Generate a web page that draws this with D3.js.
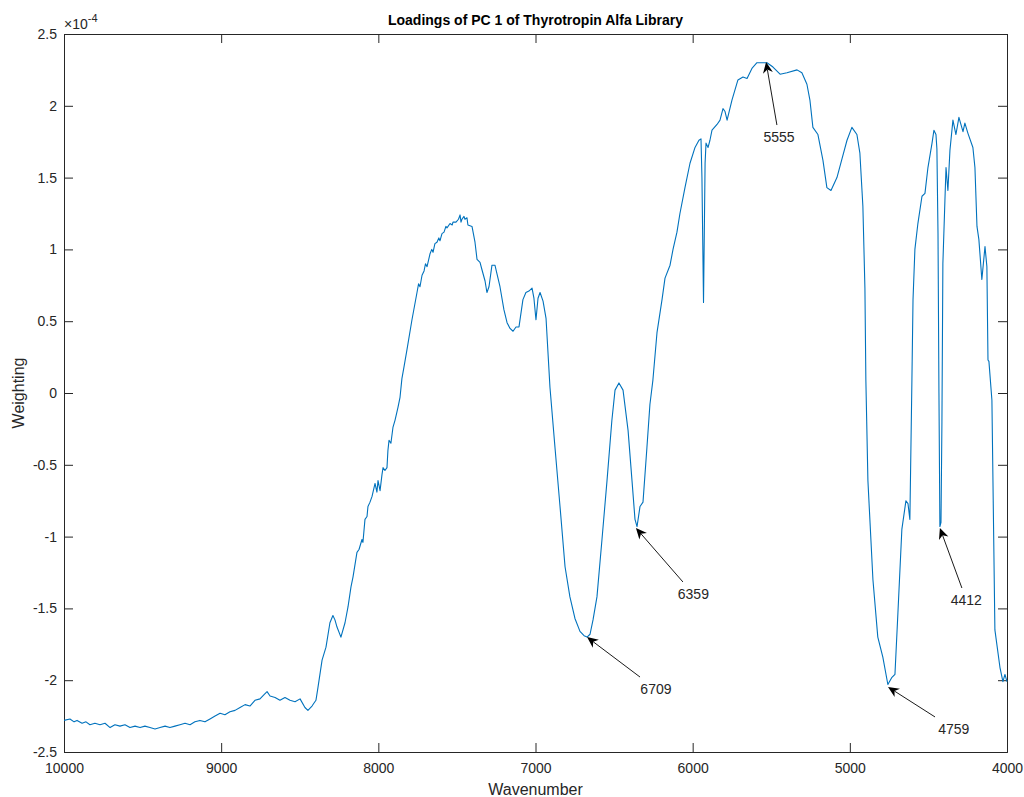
<!DOCTYPE html>
<html>
<head>
<meta charset="utf-8">
<script src="https://cdn.jsdelivr.net/npm/d3@7"></script>
<style>
  body { margin: 0; background: #fff; }
  text { font-family: "Liberation Sans", Arial, Helvetica, sans-serif; }
</style>
</head>
<body>
<svg id="chart" width="1024" height="797"></svg>
<script>
// loadings (weighting in units of 1e-4)
const wavenumber = [
  10000, 9962, 9936, 9917, 9885, 9860, 9835, 9803, 9771, 9739, 9707, 9676, 9644, 9612, 9580, 9548,
  9516, 9485, 9453, 9421, 9389, 9357, 9326, 9294, 9262, 9230, 9198, 9167, 9135, 9103, 9071, 9039,
  9007, 8976, 8944, 8912, 8880, 8848, 8817, 8785, 8753, 8727, 8708, 8689, 8657, 8626, 8594, 8562,
  8530, 8498, 8467, 8448, 8422, 8397, 8384, 8358, 8333, 8308, 8289, 8276, 8263, 8238, 8212, 8193,
  8174, 8161, 8136, 8123, 8104, 8098, 8085, 8072, 8066, 8053, 8040, 8021, 8009, 8002, 7989, 7977,
  7970, 7958, 7945, 7939, 7932, 7920, 7907, 7894, 7875, 7862, 7850, 7837, 7818, 7786, 7754, 7744,
  7735, 7722, 7709, 7700, 7690, 7671, 7660, 7652, 7640, 7627, 7615, 7608, 7595, 7582, 7570, 7563,
  7544, 7530, 7525, 7506, 7490, 7480, 7474, 7468, 7455, 7449, 7436, 7430, 7404, 7385, 7372, 7353,
  7341, 7321, 7309, 7296, 7277, 7258, 7245, 7226, 7201, 7181, 7162, 7143, 7124, 7105, 7080, 7061,
  7042, 7022, 7010, 6997, 6984, 6971, 6952, 6933, 6908, 6876, 6844, 6812, 6781, 6749, 6717, 6691,
  6672, 6653, 6634, 6609, 6577, 6545, 6514, 6494, 6469, 6443, 6411, 6386, 6367, 6354, 6335, 6316,
  6291, 6272, 6253, 6227, 6195, 6176, 6144, 6125, 6100, 6081, 6049, 6017, 5985, 5960, 5947, 5941,
  5931, 5921, 5915, 5902, 5890, 5877, 5845, 5826, 5807, 5794, 5781, 5750, 5712, 5680, 5654, 5623,
  5591, 5553, 5527, 5489, 5444, 5400, 5336, 5305, 5273, 5254, 5235, 5203, 5171, 5146, 5120, 5082,
  5050, 5018, 4987, 4955, 4936, 4917, 4904, 4898, 4885, 4853, 4822, 4790, 4758, 4732, 4713, 4694,
  4669, 4643, 4630, 4618, 4605, 4598, 4586, 4567, 4541, 4522, 4503, 4477, 4465, 4452, 4446, 4439,
  4433, 4427, 4420, 4414, 4408, 4395, 4388, 4376, 4363, 4344, 4325, 4306, 4280, 4268, 4249, 4217,
  4204, 4191, 4179, 4160, 4140, 4128, 4121, 4115, 4096, 4077, 4045, 4026, 4013, 4000
];
const weighting = [
  -2.28, -2.27, -2.29, -2.28, -2.30, -2.29, -2.31, -2.30, -2.31, -2.30, -2.33, -2.31, -2.32, -2.31, -2.33, -2.32,
  -2.33, -2.32, -2.33, -2.34, -2.33, -2.32, -2.33, -2.32, -2.31, -2.30, -2.31, -2.29, -2.28, -2.29, -2.27, -2.25,
  -2.23, -2.24, -2.22, -2.21, -2.19, -2.17, -2.18, -2.14, -2.13, -2.10, -2.08, -2.11, -2.12, -2.14, -2.12, -2.14,
  -2.15, -2.13, -2.19, -2.21, -2.18, -2.14, -2.05, -1.86, -1.77, -1.60, -1.55, -1.58, -1.63, -1.70, -1.60, -1.49,
  -1.35, -1.28, -1.11, -1.09, -1.02, -1.04, -0.88, -0.86, -0.79, -0.76, -0.72, -0.63, -0.69, -0.61, -0.68, -0.57,
  -0.52, -0.54, -0.52, -0.40, -0.33, -0.35, -0.24, -0.19, -0.10, -0.03, 0.10, 0.18, 0.30, 0.51, 0.70, 0.76,
  0.74, 0.82, 0.85, 0.90, 0.88, 0.97, 1.00, 0.98, 1.04, 1.05, 1.08, 1.06, 1.11, 1.12, 1.16, 1.15,
  1.18, 1.17, 1.19, 1.19, 1.21, 1.24, 1.19, 1.21, 1.23, 1.21, 1.22, 1.17, 1.16, 1.05, 0.93, 0.91,
  0.86, 0.78, 0.70, 0.74, 0.89, 0.89, 0.83, 0.74, 0.58, 0.49, 0.45, 0.43, 0.46, 0.46, 0.65, 0.70,
  0.71, 0.73, 0.66, 0.51, 0.66, 0.70, 0.64, 0.52, 0.04, -0.38, -0.79, -1.21, -1.42, -1.57, -1.66, -1.69,
  -1.70, -1.68, -1.58, -1.42, -1.02, -0.61, -0.19, 0.02, 0.07, 0.02, -0.26, -0.61, -0.88, -0.93, -0.79, -0.76,
  -0.38, -0.08, 0.09, 0.42, 0.65, 0.80, 0.89, 1.00, 1.12, 1.25, 1.43, 1.60, 1.71, 1.76, 1.77, 1.50,
  0.63, 1.60, 1.74, 1.71, 1.76, 1.83, 1.87, 1.90, 1.98, 1.96, 1.90, 2.04, 2.18, 2.20, 2.19, 2.26,
  2.30, 2.30, 2.30, 2.27, 2.22, 2.23, 2.25, 2.23, 2.15, 2.04, 1.85, 1.80, 1.62, 1.43, 1.41, 1.50,
  1.63, 1.76, 1.85, 1.80, 1.67, 1.30, 0.73, 0.09, -0.61, -1.30, -1.70, -1.84, -2.03, -1.98, -1.96, -1.53,
  -0.95, -0.75, -0.77, -0.88, 0.09, 0.65, 1.00, 1.18, 1.37, 1.39, 1.57, 1.74, 1.83, 1.80, 1.70, 1.11,
  0.00, -0.93, -0.90, -0.20, 0.90, 1.34, 1.57, 1.41, 1.69, 1.90, 1.80, 1.92, 1.82, 1.88, 1.81, 1.71,
  1.57, 1.16, 1.07, 0.79, 1.02, 0.88, 0.23, 0.22, -0.05, -1.65, -1.91, -2.01, -1.96, -2.01
];

const xTicks = [10000, 9000, 8000, 7000, 6000, 5000, 4000];
const yTicks = [-2.5, -2, -1.5, -1, -0.5, 0, 0.5, 1, 1.5, 2, 2.5];

// peak annotations: label, arrow tip and arrow tail (data units)
const annLabels = ["5555", "6359", "6709", "4759", "4412"];
const annTipW  = [5533, 6361, 6672, 4757, 4427];
const annTipV  = [2.305, -0.94, -1.70, -2.047, -0.94];
const annTailW = [5464, 6062, 6335, 4458, 4287];
const annTailV = [1.866, -1.316, -1.978, -2.256, -1.358];

const svg = d3.select("#chart");
const plotL = 64, plotR = 1007, plotT = 34, plotB = 752;
const axisColor = "#262626";

const x = d3.scaleLinear().domain([10000, 4000]).range([plotL, plotR]);
const y = d3.scaleLinear().domain([-2.5, 2.5]).range([plotB, plotT]);

const n = Math.min(wavenumber.length, weighting.length);
const points = wavenumber.slice(0, n).map((w, i) => [w, weighting[i]]);

// axes, MATLAB style: ticks inside, box on
const tickLen = 9;
const xAxis = svg.append("g").attr("transform", `translate(0,${plotB})`)
    .call(d3.axisBottom(x).tickValues(xTicks).tickSize(-tickLen).tickPadding(11).tickFormat(d3.format("d")));
const xAxisTop = svg.append("g").attr("transform", `translate(0,${plotT})`)
    .call(d3.axisTop(x).tickValues(xTicks).tickSize(-tickLen).tickFormat(""));
const yAxis = svg.append("g").attr("transform", `translate(${plotL},0)`)
    .call(d3.axisLeft(y).tickValues(yTicks).tickSize(-tickLen).tickPadding(7).tickFormat(d => String(d)));
const yAxisRight = svg.append("g").attr("transform", `translate(${plotR},0)`)
    .call(d3.axisRight(y).tickValues(yTicks).tickSize(-tickLen).tickFormat(""));

[xAxis, xAxisTop, yAxis, yAxisRight].forEach(g => {
  g.select(".domain").attr("stroke", axisColor).attr("stroke-width", 1);
  g.selectAll(".tick line").attr("stroke", axisColor);
  g.selectAll(".tick text")
      .attr("fill", axisColor)
      .style("font-family", "'Liberation Sans', Arial, sans-serif")
      .style("font-size", "14px");
});

// exponent label
const expo = svg.append("text")
    .attr("x", plotL).attr("y", 29)
    .attr("fill", axisColor)
    .style("font-size", "14px");
expo.append("tspan").text("\u00d710");
expo.append("tspan").attr("dy", -7).style("font-size", "11px").text("-4");

// the loading curve
svg.append("path")
    .datum(points)
    .attr("fill", "none")
    .attr("stroke", "#0072BD")
    .attr("stroke-width", 1.1)
    .attr("stroke-linejoin", "round")
    .attr("d", d3.line().x(d => x(d[0])).y(d => y(d[1])));

// annotations
annLabels.forEach((lab, i) => {
  const tx = x(annTipW[i]), ty = y(annTipV[i]);
  const bx = x(annTailW[i]), by = y(annTailV[i]);
  const dx = bx - tx, dy = by - ty, len = Math.hypot(dx, dy);
  const ux = dx / len, uy = dy / len;
  const headLen = 11, headW = 5;
  const baseX = tx + ux * headLen, baseY = ty + uy * headLen;
  const notchX = tx + ux * headLen * 0.7, notchY = ty + uy * headLen * 0.7;

  svg.append("line")
      .attr("x1", bx).attr("y1", by)
      .attr("x2", notchX).attr("y2", notchY)
      .attr("stroke", "#000").attr("stroke-width", 0.9);
  svg.append("path")
      .attr("d", `M${tx},${ty} L${baseX - uy * headW},${baseY + ux * headW} L${notchX},${notchY} L${baseX + uy * headW},${baseY - ux * headW} Z`)
      .attr("fill", "#000");

  const t = Math.min(20 / Math.max(Math.abs(ux), 1e-6), 12 / Math.max(Math.abs(uy), 1e-6));
  svg.append("text")
      .attr("x", bx + ux * t).attr("y", by + uy * t)
      .attr("text-anchor", "middle")
      .attr("dominant-baseline", "central")
      .attr("fill", axisColor)
      .style("font-size", "14px")
      .text(lab);
});

// title and axis labels
svg.append("text")
    .attr("x", (plotL + plotR) / 2).attr("y", 25)
    .attr("text-anchor", "middle")
    .attr("fill", "#000")
    .style("font-size", "14px").style("font-weight", "bold")
    .text("Loadings of PC 1 of Thyrotropin Alfa Library");

svg.append("text")
    .attr("x", (plotL + plotR) / 2).attr("y", 795)
    .attr("text-anchor", "middle")
    .attr("fill", axisColor)
    .style("font-size", "16px")
    .text("Wavenumber");

svg.append("text")
    .attr("transform", `translate(24,${(plotT + plotB) / 2}) rotate(-90)`)
    .attr("text-anchor", "middle")
    .attr("fill", axisColor)
    .style("font-size", "16px")
    .text("Weighting");
</script>
</body>
</html>
